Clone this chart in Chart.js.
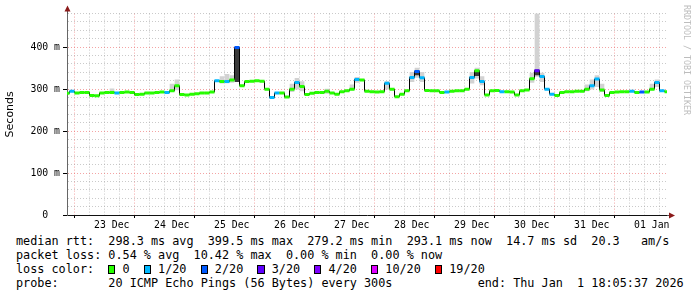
<!DOCTYPE html>
<html>
<head>
<meta charset="utf-8">
<script src="https://cdn.jsdelivr.net/npm/chart.js@4.4.1/dist/chart.umd.min.js"></script>
<style>
  html, body { margin:0; padding:0; background:#fff; }
  #wrap { position:relative; width:697px; height:297px; overflow:hidden; background:#fff; }
  #plot { position:absolute; left:0; top:0; width:697px; height:232px; }
  .leg { position:absolute; left:16px; font:11.8px "DejaVu Sans Mono", monospace; white-space:pre; line-height:14px; color:#000; }
  .box { display:inline-block; width:1ch; height:9px; border:1px solid #000; box-sizing:border-box; vertical-align:-1px; }
  #brand { position:absolute; left:682px; top:5px; writing-mode:vertical-rl; font:8.3px "DejaVu Sans Mono", monospace; color:#bdbdbd; white-space:pre; }
</style>
</head>
<body>
<div id="wrap">
  <div id="plot"><canvas id="chartPing"></canvas></div>
  <div id="brand">RRDTOOL / TOBI OETIKER</div>
  <div class="leg" id="l1" style="top:234px"></div>
  <div class="leg" id="l2" style="top:248px"></div>
  <div class="leg" id="l3" style="top:262px"></div>
  <div class="leg" id="l4" style="top:276px"></div>
</div>
<script>
// hours relative to 23 Dec 00:00, one sample every 2 hours
const startHour = -5.906;
const endHour = 234.094;
const stepHours = 2;
const dayLabels = ['23 Dec','24 Dec','25 Dec','26 Dec','27 Dec','28 Dec','29 Dec','30 Dec','31 Dec','01 Jan'];
const yTickValues = [0, 100, 200, 300, 400];
const yTickText = ['0  ', '100 m', '200 m', '300 m', '400 m'];

// median rtt (ms)
const median = [
  290,295,291,292,292,285,284,291,292,292,
  291,292,293,292,287,288,291,291,292,293,
  292,296,308,287,286,288,289,291,291,293,
  320,318,318,322,399,308,318,319,320,319,
  300,280,291,291,281,300,316,306,287,290,
  292,292,295,291,288,294,296,300,323,322,
  295,294,293,294,314,300,282,288,296,328,
  342,327,297,296,296,292,293,295,296,296,
  300,328,344,318,286,296,297,294,294,293,
  286,296,298,325,344,330,300,288,285,292,
  294,294,295,295,300,308,324,298,285,292,
  293,294,294,295,292,293,293,300,316,296,
  294
];
// lost pings out of 20
const loss = [
  0,1,0,0,0,0,0,0,0,0,
  1,0,0,0,0,0,0,0,0,0,
  1,0,0,0,0,0,0,0,0,0,
  1,0,1,0,2,0,0,0,0,0,
  0,1,1,0,0,0,1,0,0,0,
  0,0,0,0,0,0,0,0,1,0,
  0,0,0,0,1,0,0,0,0,1,
  2,1,0,0,0,0,1,0,0,0,
  0,1,0,1,0,0,0,1,0,0,
  0,0,0,0,3,1,1,1,0,0,
  0,0,0,0,0,1,1,0,0,0,
  0,0,0,1,0,2,0,0,1,1,
  0
];
// smoke: [sample, low ms, high ms]
const smokeLight = [
  [9,292,301],[21,294,312],[22,298,322],[31,314,330],[32,315,335],[33,316,332],
  [45,294,312],[46,300,326],[47,296,318],[52,290,300],[57,298,310],[58,316,328],
  [64,300,318],[69,318,340],[70,328,350],[71,318,340],[81,314,340],[82,326,350],
  [83,310,330],[93,316,338],[94,330,480],[95,318,338],[104,296,310],[105,300,322],
  [106,306,332],[107,294,312],[117,298,312],[118,306,322]
];
const smokeCore = [[34,318,399],[70,334,344],[82,332,344],[94,334,346]];

const lossSteps = ['0','1/20','2/20','3/20','4/20','10/20','19/20'];
const lossPalette = ['#26ff00','#00b8ff','#0059ff','#5e00ff','#7e00ff','#dd00ff','#ff0000'];

const xOf = i => startHour + i * stepHours;
const medianPts = median.map((v, i) => ({ x: xOf(i), y: v }));
const bars = list => list.map(s => ({ x: xOf(s[0]), y: [s[1], s[2]] }));

const tickHours = [];
for (let h = 0; h <= endHour; h += 6) tickHours.push(h);

const majorGrid = 'rgba(235,90,90,0.55)';
const minorGrid = 'rgba(150,150,150,0.5)';
const mono = '"DejaVu Sans Mono", monospace';

const arrows = {
  id: 'arrows',
  afterDraw(chart) {
    const { ctx, chartArea: a } = chart;
    ctx.save();
    ctx.strokeStyle = '#555';
    ctx.lineWidth = 1;
    ctx.beginPath();
    ctx.moveTo(Math.round(a.left) + 0.5, a.top);
    ctx.lineTo(Math.round(a.left) + 0.5, a.top - 3);
    ctx.moveTo(a.right, Math.round(a.bottom) + 0.5);
    ctx.lineTo(a.right + 2, Math.round(a.bottom) + 0.5);
    ctx.stroke();
    ctx.fillStyle = '#8b1a1a';
    const lx = Math.round(a.left) + 0.5, ty = a.top - 7;
    ctx.beginPath();
    ctx.moveTo(lx - 3, ty + 5); ctx.lineTo(lx + 3, ty + 5); ctx.lineTo(lx, ty - 1); ctx.closePath(); ctx.fill();
    const rx = a.right + 2, by = Math.round(a.bottom) + 0.5;
    ctx.beginPath();
    ctx.moveTo(rx, by - 3); ctx.lineTo(rx, by + 3); ctx.lineTo(rx + 6, by); ctx.closePath(); ctx.fill();
    ctx.restore();
  }
};

new Chart(document.getElementById('chartPing'), {
  type: 'line',
  data: {
    datasets: [
      { label:'median', data: medianPts, showLine:false, pointStyle:'line', pointRadius:2.5, pointHoverRadius:2.5,
        pointBorderWidth:3, pointBorderColor: c => lossPalette[loss[c.dataIndex]] },
      { label:'median line', data: medianPts, stepped:'middle', borderColor:'#000', borderWidth:1, pointRadius:0 },
      { type:'bar', label:'core', data: bars(smokeCore), backgroundColor:'#3a3a3a', barThickness:4, grouped:false, borderWidth:0 },
      { type:'bar', label:'smoke', data: bars(smokeLight), backgroundColor:'#d2d2d2', barThickness:4, grouped:false, borderWidth:0 }
    ]
  },
  options: {
    animation:false, responsive:true, maintainAspectRatio:false,
    layout:{ padding:{ top:13.6, right:30, left:0, bottom:0 } },
    plugins:{ legend:{ display:false }, tooltip:{ enabled:false } },
    scales:{
      x:{
        type:'linear', min:startHour, max:endHour, offset:false,
        afterBuildTicks: s => { s.ticks = tickHours.map(v => ({ value:v })); },
        afterFit: s => { s.height = 17; },
        ticks:{ autoSkip:false, maxRotation:0, padding:2, color:'#000', font:{ family:mono, size:9.8 },
          callback: v => (v % 24 === 12 ? dayLabels[(v - 12) / 24] : '') },
        grid:{ color: c => (c.tick && c.tick.value % 24 === 0 ? majorGrid : minorGrid), tickLength:3,
          tickColor: c => (c.tick && c.tick.value % 24 === 0 ? '#000' : 'transparent') },
        border:{ color:'#111', dash:[1,2] }
      },
      y:{
        type:'linear', min:0, max:480,
        afterFit: s => { s.width = 67; },
        ticks:{ stepSize:20, autoSkip:false, padding:3, color:'#000', font:{ family:mono, size:9.8 },
          callback: v => { const k = yTickValues.indexOf(v); return k < 0 ? '' : yTickText[k]; } },
        grid:{ color: c => (c.tick && c.tick.value % 100 === 0 ? majorGrid : minorGrid), tickLength:4,
          tickColor: c => (c.tick && c.tick.value % 100 === 0 ? '#000' : 'transparent') },
        border:{ color:'#666', dash:[1,2] },
        title:{ display:true, text:'Seconds', color:'#000', font:{ family:'"DejaVu Sans", sans-serif', size:11 }, padding:{ top:4, bottom:0 } }
      }
    }
  },
  plugins:[arrows]
});

document.getElementById('l1').textContent = 'median rtt:  298.3 ms avg  399.5 ms max  279.2 ms min  293.1 ms now  14.7 ms sd  20.3   am/s';
document.getElementById('l2').textContent = 'packet loss: 0.54 % avg  10.42 % max  0.00 % min  0.00 % now';
document.getElementById('l3').innerHTML = 'loss color:  ' + lossSteps.map((t, k) =>
  '<span class="box" style="background:' + lossPalette[k] + '"></span> ' + t).join('  ');
document.getElementById('l4').textContent = 'probe:       20 ICMP Echo Pings (56 Bytes) every 300s            end: Thu Jan  1 18:05:37 2026';
</script>
</body>
</html>
